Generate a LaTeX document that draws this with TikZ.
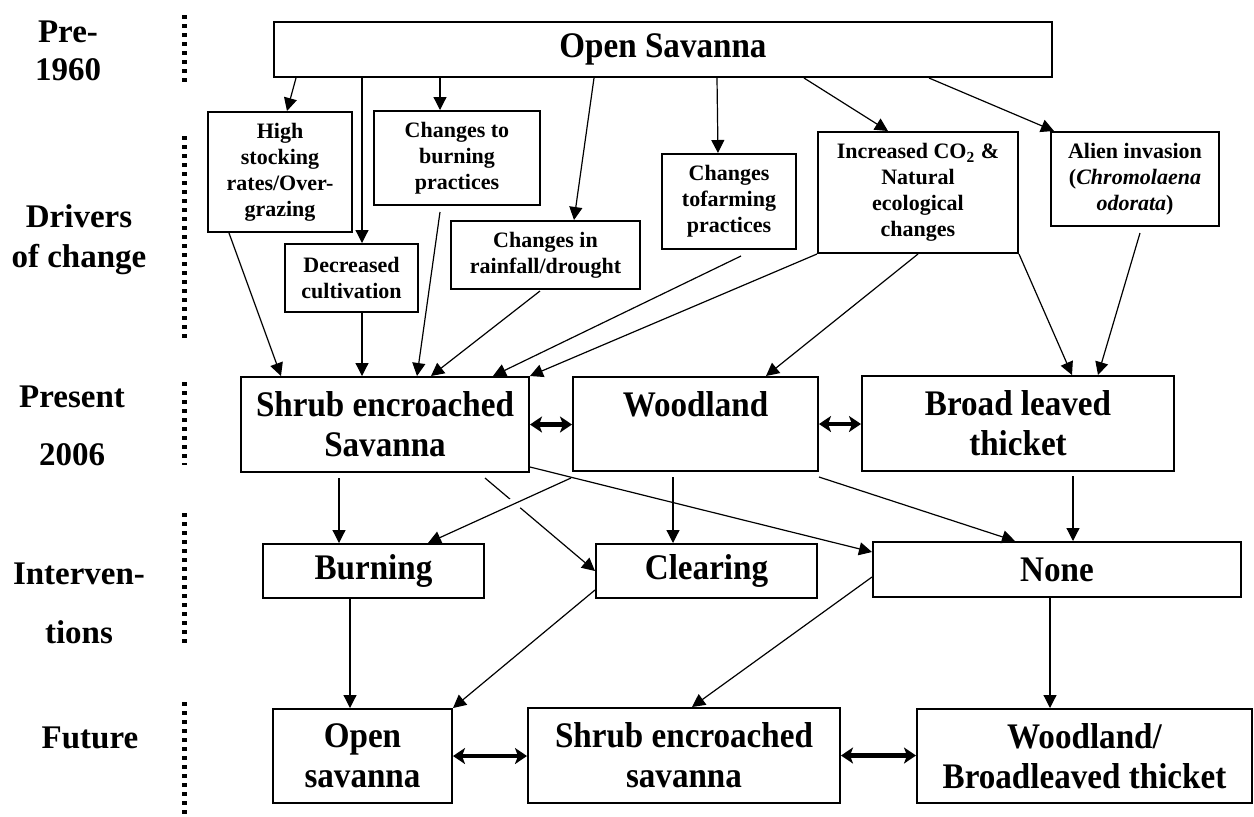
\documentclass[tikz,border=0pt]{standalone}
\usepackage{fontspec}
\setmainfont{Liberation Serif}
\newfontfamily\boxfont{Liberation Serif}[FakeStretch=0.92]
\usetikzlibrary{arrows.meta,calc}

\tikzset{
  stage/.style={draw, line width=1pt, align=center, inner sep=2pt,
    font=\boxfont\fontsize{18}{20}\selectfont\bfseries},
  driver/.style={draw, line width=1pt, align=center, inner sep=2pt,
    font=\fontsize{11}{13}\selectfont\bfseries},
  dims/.style 2 args={minimum width=#1, minimum height=#2},
  epoch/.style={align=center, font=\fontsize{16.5}{20}\selectfont\bfseries},
  epochrule/.style={line width=2.5pt, dash pattern=on 2.2pt off 2.3pt},
  link/.style={line width=0.6pt, -{Triangle[length=6.5pt,width=6.5pt]}},
  twoway/.style={line width=2.2pt, {Stealth[length=6pt,width=8pt,inset=1.5pt]}-{Stealth[length=6pt,width=8pt,inset=1.5pt]}},
}

\begin{document}
\begin{tikzpicture}[x=0.5pt, y=-0.5pt]
      \useasboundingbox (0,0) rectangle (1254,816);

      % time scale on the left
      \node [epoch] (pre) at (68,51) {Pre-\\[-1pt]1960};
      \node [epoch] (drivers) at (79,240) {Drivers\\of change};
      \node [epoch] (present) at (72,426) {Present\\[9pt]2006};
      \node [epoch] (interv) at (79,603) {Interven-\\[9.5pt]tions};
      \node [epoch] (future) at (90,738) {Future};
      \foreach \a/\b in {15/82, 136/338, 382/465, 513/647, 702/818}
        \draw [epochrule] (184,\a) -- (184,\b);

      % pre-1960 and drivers
      \node [stage, dims={389pt}{27.5pt}] (os) at (663,49.5) {Open Savanna};
      \node [driver, dims={72pt}{60pt}] (hs) at (280,172) {High\\stocking\\rates/Over-\\grazing};
      \node [driver, dims={83pt}{47pt}] (cb) at (457,158) {Changes to\\burning\\practices};
      \node [driver, dims={66.5pt}{34pt}] (dc) at (351.5,278) {Decreased\\cultivation};
      \node [driver, dims={94.5pt}{34pt}] (cr) at (545.5,255) {Changes in\\rainfall/drought};
      \node [driver, dims={67pt}{47.5pt}] (cf) at (729,201.5) {Changes\\tofarming\\practices};
      \node [driver, dims={100pt}{60.5pt}] (ic) at (918,192.5) {Increased CO\textsubscript{2} \&\\Natural\\ecological\\changes};
      \node [driver, dims={84pt}{47pt}] (ai) at (1135,179) {Alien invasion\\(\textit{Chromolaena}\\\textit{odorata})};

      % present, interventions, future
      \node [stage, dims={144pt}{47.5pt}] (se) at (385,424.5) {Shrub encroached\\Savanna};
      \node [stage, dims={122.5pt}{47pt}] (wl) at (695.5,424) {Woodland\\\mbox{}};
      \node [stage, dims={156pt}{47.5pt}] (bl) at (1018,423.5) {Broad leaved\\thicket};
      \node [stage, dims={110.5pt}{27pt}] (bu) at (373.5,571) {Burning};
      \node [stage, dims={110.5pt}{27pt}] (cl) at (706.5,571) {Clearing};
      \node [stage, dims={184pt}{27.5pt}] (no) at (1057,569.5) {None};
      \node [stage, dims={89.5pt}{47pt}] (fo) at (362.5,756) {Open\\savanna};
      \node [stage, dims={156pt}{47.5pt}] (fs) at (684,755.5) {Shrub encroached\\savanna};
      \node [stage, dims={167.5pt}{47pt}] (fw) at (1084.5,756) {Woodland/\\Broadleaved thicket};

      \draw [link] ($(os.south west)+(23,0)$) -- ($(hs.north)+(7,0)$);
      \draw [link] ($(os.south west)+(89,0)$) -- ($(dc.north west)+(78,0)$);
      \draw [link] ($(os.south west)+(167,0)$) -- ($(cb.north west)+(67,0)$);
      \draw [link] ($(os.south west)+(321,0)$) -- ($(cr.north)+(28.5,0)$);
      \draw [link] ($(os.south west)+(444,0)$) -- ($(cf.north)+(-11,0)$);
      \draw [link] ($(os.south west)+(531,0)$) -- ($(ic.north)+(-30,0)$);
      \draw [link] ($(os.south east)+(-124,0)$) -- ($(ai.north west)+(4,0)$);

      \draw [link] ($(hs.south west)+(22,0)$) -- ($(se.north west)+(41,0)$);
      \draw [link] ($(dc.south west)+(78,0)$) -- ($(se.north west)+(122,0)$);
      \draw [link] ($(cb.south west)+(67,6)$) -- ($(se.north west)+(177,0)$);
      \draw [link] ($(cr.south)+(-5.5,1)$) -- ($(se.north west)+(191,0)$);
      \draw [link] ($(cf.south)+(12,6)$) -- ($(se.north west)+(253,0)$);
      \draw [link] (ic.south west) -- (se.north east);
      \draw [link] (ic.south) -- ($(wl.north east)+(-53,0)$);
      \draw [link] (ic.south east) -- ($(bl.north)+(54,0)$);
      \draw [link] ($(ai.south)+(5,6)$) -- ($(bl.north)+(80,0)$);

      \draw [twoway] (se.east) -- (se.east -| wl.west);
      \draw [twoway] (wl.east) -- (wl.east -| bl.west);

      \draw [link] ($(se.south west)+(99,5)$) -- ($(bu.north west)+(77,0)$);
      \draw [link] ($(se.south east)+(-45,5)$) -- (cl.west);
      % white gap where it crosses the line to Clearing
      \draw [link, preaction={draw=white, line width=6pt, arrows=-, shorten <=29pt, shorten >=42.5pt}]
        ($(wl.south west)+(-1,6)$) -- ($(bu.north east)+(-57,0)$);
      \draw [link] ($(wl.south)+(-22.5,5)$) -- ($(cl.north)+(-33.5,0)$);
      \draw [link] ($(se.south east)+(0,-6)$) -- ($(no.north west)+(0,11)$);
      \draw [link] ($(wl.south east)+(0,5)$) -- ($(no.north)+(-42,0)$);
      \draw [link] ($(bl.south)+(55,4)$) -- ($(no.north)+(16,0)$);

      \draw [link] ($(bu.south west)+(88,0)$) -- ($(fo.north west)+(78,0)$);
      \draw [link] ($(cl.south west)+(0,-9)$) -- (fo.north east);
      \draw [link] ($(no.west)+(0,7.5)$) -- ($(fs.north)+(8,0)$);
      \draw [link] ($(no.south)+(-7,0)$) -- ($(fw.north)+(-34.5,0)$);
      \draw [twoway] (fo.east) -- (fo.east -| fs.west);
      \draw [twoway] (fs.east) -- (fs.east -| fw.west);
    \end{tikzpicture}
\end{document}
